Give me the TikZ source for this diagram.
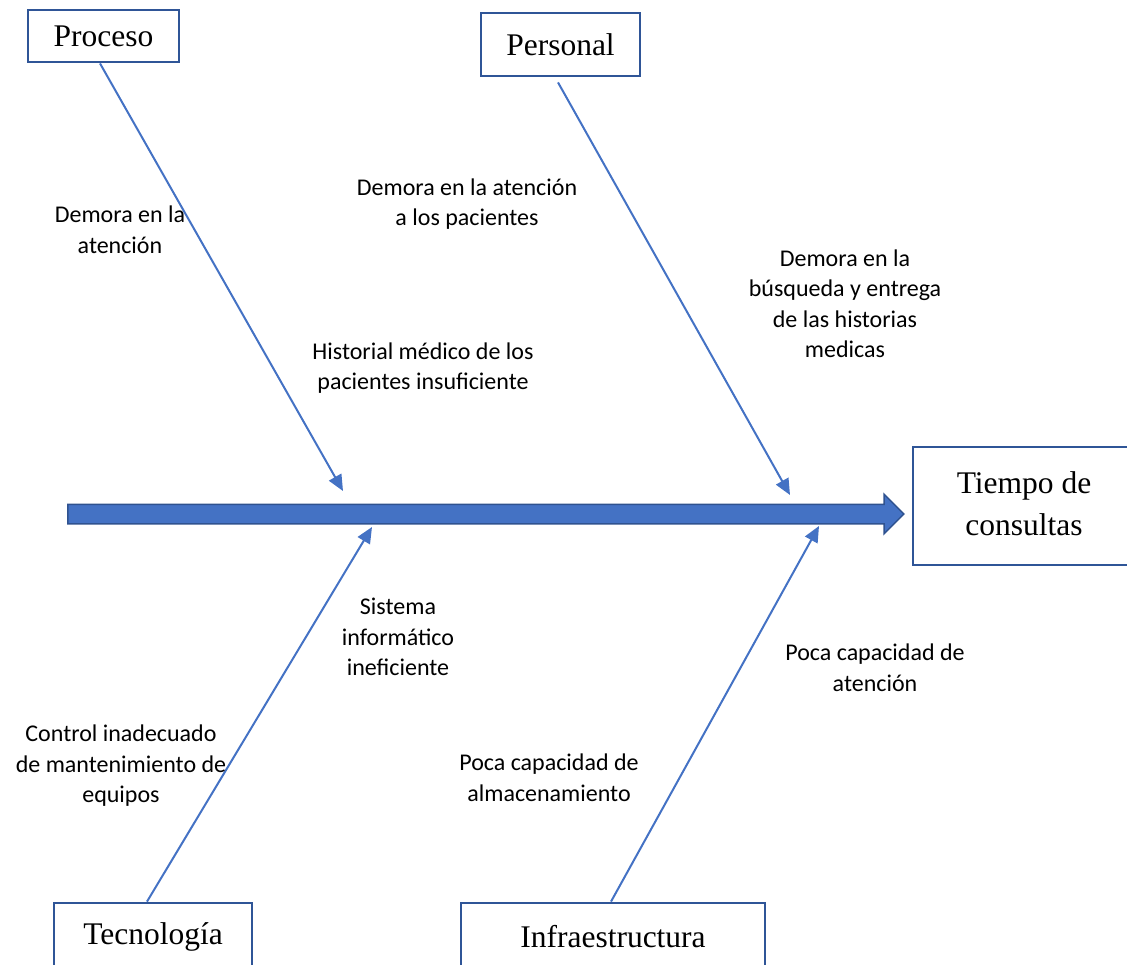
\documentclass[tikz,border=0pt]{standalone}
\usepackage{fontspec}
\setmainfont{Liberation Serif}
\newfontfamily\lblfont{Carlito}
\usetikzlibrary{arrows.meta,shapes.arrows}
\definecolor{lineblue}{HTML}{4472C4}
\definecolor{boxblue}{HTML}{2F5597}
\definecolor{spineedge}{HTML}{2F528F}
\begin{document}
\begin{tikzpicture}[x=1pt,y=-1pt,
  cause/.style={draw=boxblue, line width=2.8pt, fill=white, inner sep=0pt,
    font=\fontsize{31.5}{42}\selectfont, align=center},
  lbl/.style={font=\lblfont\fontsize{24}{30.5}\selectfont, align=center, inner sep=0pt},
  bone/.style={draw=lineblue, line width=2pt, -{Triangle[length=16pt,width=14pt]}},
  spinestyle/.style={single arrow, draw=spineedge, fill=lineblue, line width=1.5pt,
    single arrow head extend=10pt, single arrow head indent=0pt,
    inner xsep=0pt, inner ysep=9pt}
]
\useasboundingbox (0,0) rectangle (1127,965);
\clip (0,0) rectangle (1127,965);

% spine
\node[spinestyle, minimum height=836pt] (spine) at (481,514) {};

% boxes
\node[cause, minimum width=151pt, minimum height=52pt] (pro) at (103.5,36) {Proceso};
\node[cause, minimum width=159pt, minimum height=63pt] (per) at (560.5,44.5) {Personal};
\node[cause, minimum width=222pt, minimum height=118pt] (eff) at (1024,506) {\raisebox{6pt}{\begin{tabular}{@{}c@{}}Tiempo de\\consultas\end{tabular}}};
\node[cause, minimum width=198pt, minimum height=68pt] (tec) at (153,937) {Tecnología};
\node[cause, minimum width=304pt, minimum height=68pt] (inf) at (613,937) {Infraestructura};

% bone ends on the spine
\coordinate (p1) at (343,491);
\coordinate (p2) at (790,495);
\coordinate (t1) at (372,527);
\coordinate (i1) at (819,526);

\draw[bone] ([xshift=-3.5pt]pro.south) -- (p1);
\draw[bone] ([xshift=-2.5pt,yshift=-5pt]per.south) -- (p2);
\draw[bone] ([xshift=-6pt]tec.north) -- (t1);
\draw[bone] ([xshift=-2pt]inf.north) -- (i1);

% labels
\node[lbl] (l1) at (120,230) {Demora en la\\atención};
\node[lbl] (l2) at (467,204) {Demora en la atención\\a los pacientes};
\node[lbl] (l3) at (845,304) {Demora en la\\búsqueda y entrega\\de las historias\\medicas};
\node[lbl] (l4) at (423,368) {Historial médico de los\\pacientes insuficiente};
\node[lbl] (l5) at (398,637) {Sistema\\informático\\ineficiente};
\node[lbl] (l6) at (875,668) {Poca capacidad de\\atención};
\node[lbl] (l7) at (121,766) {Control inadecuado\\de mantenimiento de\\equipos};
\node[lbl] (l8) at (549,778) {Poca capacidad de\\almacenamiento};
\end{tikzpicture}
\end{document}
